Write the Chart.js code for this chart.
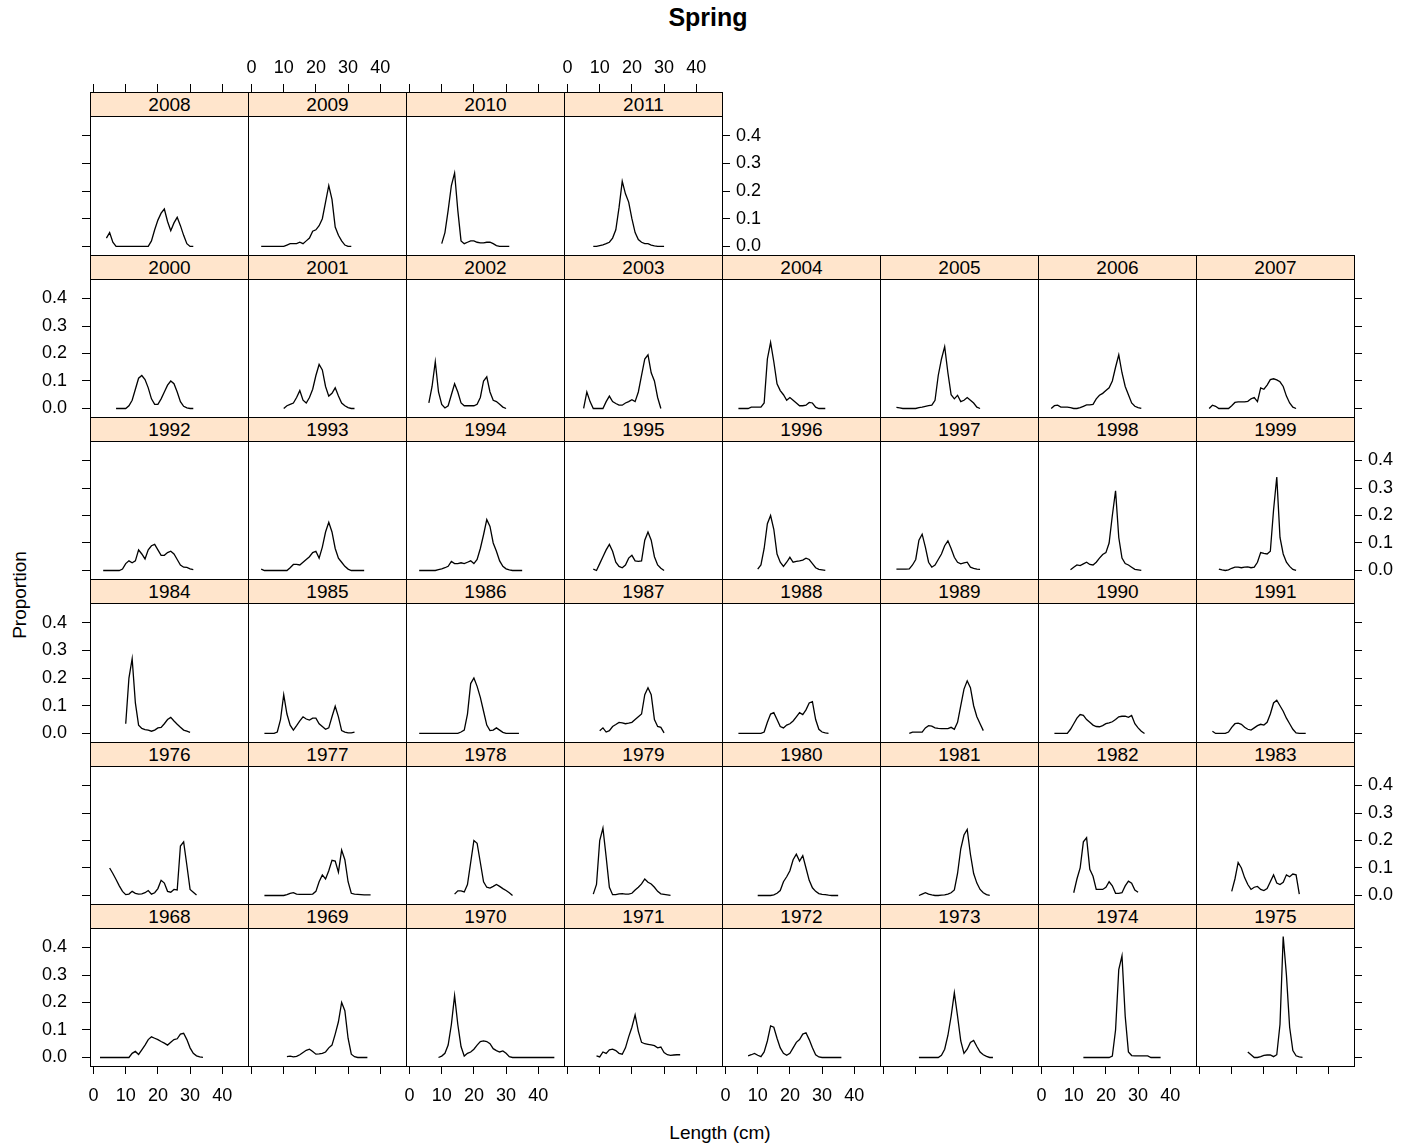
<!DOCTYPE html>
<html>
<head>
<meta charset="utf-8">
<script src="https://cdn.jsdelivr.net/npm/chart.js@4.4.1/dist/chart.umd.min.js"></script>
<style>
  body { margin: 0; background: #fff; }
  #page { position: relative; width: 1404px; height: 1147px; overflow: hidden; font-family: 'Liberation Sans', Arial, sans-serif; }
  canvas { position: absolute; }
  .strip { position: absolute; box-sizing: border-box; background: #ffe5cc; border: 1px solid #000;
           text-align: center; font-size: 19px; color: #000; z-index: 5; }
  .lbl { position: absolute; text-align: center; color: #000; white-space: nowrap; }
</style>
</head>
<body>
<div id="page">
  <div class="lbl" style="left:558px; top:3px; width:300px; font-size:25px; font-weight:bold; line-height:28px;">Spring</div>
  <div class="lbl" style="left:620px; top:1122px; width:200px; font-size:19px; line-height:22px;">Length (cm)</div>
  <div class="lbl" style="left:-80px; top:584px; width:200px; font-size:19px; line-height:22px; transform:rotate(-90deg);">Proportion</div>
</div>
<script>
// panel years, in lattice order (bottom-left first)
const years = [1968, 1969, 1970, 1971, 1972, 1973, 1974, 1975,
               1976, 1977, 1978, 1979, 1980, 1981, 1982, 1983,
               1984, 1985, 1986, 1987, 1988, 1989, 1990, 1991,
               1992, 1993, 1994, 1995, 1996, 1997, 1998, 1999,
               2000, 2001, 2002, 2003, 2004, 2005, 2006, 2007,
               2008, 2009, 2010, 2011];

// first length class (cm) of each year's series, 1 cm steps after that
const startLength = [2, 11, 9, 9, 7, 11, 13, 15,
                     5, 4, 14, 8, 10, 11, 10, 10,
                     10, 4, 3, 10, 4, 8, 4, 4,
                     3, 3, 3, 8, 10, 4, 9, 6,
                     7, 10, 6, 5, 4, 4, 3, 3,
                     4, 3, 10, 8];

// proportion at length
const proportion = [
  [0,0,0,0,0,0,0,0,0,0, 0.015,0.022,0.011,0.028,0.045,0.065,0.075,0.07,0.065,0.058, 0.052,0.045,0.055,0.065,0.068,0.085,0.088,0.065,0.035,0.015, 0.006,0.002,0], // 1968
  [0.003,0.005,0.002,0.004,0.01,0.018,0.026,0.03,0.022,0.012, 0.013,0.015,0.02,0.035,0.045,0.085,0.13,0.2,0.17,0.07, 0.012,0.003,0,0,0,0], // 1969
  [0,0.005,0.015,0.045,0.12,0.225,0.12,0.04,0.005,0.015, 0.02,0.03,0.045,0.058,0.06,0.058,0.05,0.032,0.025,0.02, 0.024,0.015,0.003,0,0,0,0,0,0,0, 0,0,0,0,0,0,0], // 1970
  [0.006,0.002,0.02,0.015,0.028,0.03,0.025,0.015,0.012,0.035, 0.075,0.11,0.155,0.095,0.055,0.05,0.048,0.046,0.043,0.035, 0.038,0.018,0.01,0.008,0.009,0.01,0.01], // 1971
  [0.006,0.01,0.015,0.008,0.003,0.02,0.06,0.115,0.11,0.07, 0.035,0.015,0.008,0.015,0.035,0.055,0.065,0.085,0.09,0.065, 0.035,0.01,0.002,0,0,0,0,0,0,0], // 1972
  [0,0,0,0,0,0,0,0.008,0.03,0.08, 0.15,0.235,0.15,0.06,0.015,0.03,0.055,0.062,0.04,0.02, 0.01,0.004,0,0], // 1973
  [0,0,0,0,0,0,0,0,0,0.005, 0.1,0.32,0.37,0.15,0.02,0.007,0.006,0.006,0.006,0.006, 0.006,0,0,0,0], // 1974
  [0.02,0.01,0,0,0.003,0.008,0.009,0.009,0.003,0.01, 0.12,0.44,0.3,0.11,0.025,0.006,0.002,0], // 1975
  [0.1,0.08,0.058,0.035,0.015,0.003,0.005,0.015,0.008,0.005, 0.006,0.01,0.018,0.005,0.01,0.025,0.055,0.045,0.015,0.012, 0.022,0.02,0.18,0.195,0.11,0.022,0.012,0.002], // 1976
  [0,0,0,0,0,0,0,0.003,0.008,0.01, 0.005,0.004,0.004,0.004,0.004,0.005,0.015,0.05,0.075,0.06, 0.09,0.128,0.125,0.085,0.165,0.13,0.05,0.008,0.005,0.004, 0.003,0.002,0.002,0.002], // 1977
  [0.005,0.017,0.017,0.013,0.04,0.12,0.2,0.19,0.12,0.05, 0.03,0.027,0.033,0.04,0.033,0.025,0.018,0.01,0], // 1978
  [0.005,0.04,0.2,0.245,0.14,0.03,0.003,0.003,0.006,0.007, 0.005,0.005,0.008,0.02,0.03,0.042,0.06,0.048,0.042,0.03, 0.015,0.006,0.004,0.002,0], // 1979
  [0,0,0,0,0,0.002,0.008,0.018,0.05,0.068, 0.09,0.13,0.15,0.125,0.145,0.1,0.055,0.028,0.015,0.007, 0.004,0.003,0.001,0,0,0], // 1980
  [0,0.005,0.01,0.005,0.002,0,0,0.001,0.002,0.005, 0.01,0.02,0.08,0.17,0.22,0.24,0.15,0.08,0.045,0.022, 0.01,0.003,0], // 1981
  [0.01,0.06,0.1,0.195,0.21,0.095,0.07,0.022,0.022,0.022, 0.03,0.05,0.035,0.008,0.008,0.01,0.035,0.052,0.045,0.02, 0.012], // 1982
  [0.015,0.06,0.12,0.1,0.065,0.04,0.022,0.03,0.033,0.022, 0.018,0.025,0.05,0.075,0.045,0.04,0.048,0.075,0.068,0.078, 0.075,0.005], // 1983
  [0.035,0.2,0.27,0.11,0.03,0.018,0.014,0.012,0.008,0.012, 0.02,0.022,0.035,0.05,0.058,0.045,0.033,0.022,0.012,0.008, 0.004], // 1984
  [0,0,0,0,0.005,0.05,0.14,0.07,0.03,0.012, 0.028,0.045,0.06,0.052,0.048,0.055,0.055,0.035,0.025,0.015, 0.02,0.06,0.098,0.06,0.01,0.005,0.002,0.002,0.005], // 1985
  [0,0,0,0,0,0,0,0,0,0, 0,0,0,0.005,0.012,0.07,0.18,0.2,0.17,0.13, 0.08,0.03,0.01,0.012,0.02,0.012,0.004,0,0,0, 0,0], // 1986
  [0.01,0.02,0.005,0.01,0.025,0.032,0.04,0.038,0.035,0.037, 0.04,0.05,0.06,0.07,0.14,0.165,0.14,0.05,0.025,0.022, 0.002], // 1987
  [0,0,0,0,0,0,0,0,0.005,0.04, 0.07,0.075,0.05,0.025,0.02,0.03,0.035,0.045,0.06,0.075, 0.068,0.085,0.11,0.115,0.05,0.015,0.005,0.002,0], // 1988
  [0,0.005,0.005,0.005,0.005,0.02,0.028,0.026,0.02,0.018, 0.017,0.017,0.017,0.022,0.015,0.04,0.1,0.16,0.19,0.165, 0.1,0.06,0.035,0.01], // 1989
  [0,0,0,0,0,0.015,0.035,0.055,0.068,0.065, 0.05,0.04,0.03,0.025,0.024,0.028,0.035,0.038,0.042,0.05, 0.06,0.062,0.062,0.058,0.065,0.035,0.02,0.008,0], // 1990
  [0.008,0,0,0,0,0.005,0.022,0.035,0.037,0.033, 0.022,0.015,0.012,0.02,0.028,0.033,0.03,0.04,0.07,0.11, 0.12,0.1,0.08,0.055,0.035,0.015,0.002,0,0,0], // 1991
  [0,0,0,0,0,0,0.005,0.025,0.035,0.028, 0.035,0.075,0.06,0.042,0.075,0.09,0.095,0.075,0.055,0.055, 0.065,0.07,0.06,0.04,0.02,0.012,0.011,0.006,0.003], // 1992
  [0.005,0,0,0,0,0,0,0,0,0.01, 0.022,0.022,0.02,0.03,0.04,0.05,0.065,0.07,0.045,0.085, 0.14,0.175,0.14,0.08,0.045,0.03,0.015,0.005,0,0, 0,0,0], // 1993
  [0,0,0,0,0,0,0.003,0.006,0.01,0.015, 0.033,0.025,0.025,0.028,0.025,0.03,0.035,0.025,0.04,0.08, 0.13,0.185,0.16,0.1,0.07,0.035,0.015,0.006,0.002,0, 0,0,0], // 1994
  [0.005,0,0.025,0.05,0.075,0.095,0.07,0.03,0.015,0.01, 0.02,0.045,0.055,0.035,0.033,0.035,0.11,0.14,0.11,0.05, 0.02,0.008,0], // 1995
  [0.005,0.02,0.08,0.17,0.2,0.15,0.06,0.03,0.015,0.03, 0.048,0.03,0.033,0.035,0.038,0.045,0.04,0.025,0.01,0.004, 0.002,0], // 1996
  [0.005,0.005,0.005,0.005,0.006,0.02,0.04,0.11,0.132,0.085, 0.03,0.012,0.02,0.04,0.06,0.09,0.108,0.08,0.048,0.03, 0.024,0.028,0.03,0.012,0.008,0.005,0.004], // 1997
  [0.003,0.012,0.02,0.018,0.024,0.03,0.022,0.02,0.03,0.045, 0.058,0.065,0.1,0.2,0.29,0.12,0.045,0.025,0.02,0.012, 0.004,0.002,0], // 1998
  [0.005,0.002,0,0.002,0.008,0.012,0.012,0.01,0.012,0.013, 0.01,0.012,0.03,0.065,0.062,0.06,0.07,0.22,0.34,0.12, 0.06,0.03,0.015,0.004,0], // 1999
  [0,0,0,0,0.01,0.03,0.07,0.11,0.12,0.105, 0.075,0.035,0.015,0.015,0.035,0.06,0.085,0.1,0.09,0.06, 0.025,0.008,0.002,0,0], // 2000
  [0,0.01,0.015,0.02,0.04,0.065,0.03,0.02,0.04,0.07, 0.12,0.16,0.14,0.08,0.045,0.055,0.075,0.045,0.02,0.01, 0.003,0,0], // 2001
  [0.02,0.08,0.17,0.06,0.015,0.002,0.01,0.05,0.09,0.06, 0.02,0.01,0.01,0.01,0.01,0.015,0.04,0.1,0.115,0.06, 0.03,0.025,0.015,0.005,0], // 2002
  [0,0.06,0.025,0,0,0,0,0.025,0.045,0.025, 0.018,0.012,0.012,0.02,0.025,0.032,0.025,0.06,0.12,0.18, 0.195,0.13,0.1,0.04,0], // 2003
  [0,0,0,0,0.005,0.005,0.005,0.005,0.02,0.18, 0.24,0.17,0.09,0.065,0.05,0.03,0.04,0.03,0.02,0.01, 0.01,0.012,0.022,0.02,0.005,0,0,0], // 2004
  [0.004,0.002,0,0,0,0,0,0.003,0.005,0.008, 0.01,0.012,0.03,0.12,0.18,0.225,0.13,0.05,0.035,0.048, 0.025,0.03,0.04,0.03,0.02,0.005,0], // 2005
  [0,0.01,0.012,0.005,0.005,0.005,0.003,0,0,0.003, 0.008,0.013,0.013,0.015,0.035,0.048,0.055,0.065,0.075,0.1, 0.15,0.195,0.13,0.08,0.05,0.02,0.008,0.003,0], // 2006
  [0,0.012,0.008,0,0,0,0,0.01,0.022,0.024, 0.024,0.024,0.026,0.035,0.04,0.025,0.075,0.07,0.085,0.105, 0.108,0.104,0.097,0.08,0.045,0.02,0.005,0], // 2007
  [0.03,0.05,0.015,0,0,0,0,0,0,0, 0,0,0,0,0.02,0.06,0.095,0.12,0.135,0.09, 0.057,0.085,0.105,0.075,0.04,0.01,0,0], // 2008
  [0,0,0,0,0,0,0,0,0.005,0.01, 0.01,0.01,0.015,0.01,0.02,0.03,0.055,0.06,0.075,0.1, 0.16,0.22,0.17,0.07,0.04,0.02,0.005,0,0], // 2009
  [0.01,0.05,0.13,0.22,0.265,0.13,0.02,0.01,0.015,0.02, 0.02,0.015,0.013,0.013,0.015,0.015,0.01,0.003,0,0, 0,0], // 2010
  [0,0,0.003,0.006,0.01,0.015,0.03,0.06,0.14,0.235, 0.19,0.16,0.1,0.05,0.025,0.015,0.01,0.01,0.005,0.002, 0,0,0] // 2011
];

const xTicks = [0, 10, 20, 30, 40];
const xTickLabels = ['0', '10', '20', '30', '40'];
const yTicks = [0, 0.1, 0.2, 0.3, 0.4];
const yTickLabels = ['0.0', '0.1', '0.2', '0.3', '0.4'];

// layout of the lattice
const NCOL = 8, NROW = 6;
const LEFT0 = 90, TOP0 = 92.3, PANEL_W = 158, ROW_PITCH = 162.3, STRIP_H = 24;
const X_MIN = -1.1, X_MAX = 48, Y_MIN = -0.031, Y_MAX = 0.471;
const M = { l: 70, r: 70, t: 50, b: 50 };
const ink = '#000';
const fontFam = "'Liberation Sans', Arial, sans-serif";
const tickFont = { family: fontFam, size: 18 };
const none = 'rgba(0,0,0,0)';

const page = document.getElementById('page');

function axis(kind, pos, min, max, ticks, labels, fit, showTicks, showLabels, pad) {
  return {
    type: 'linear', position: pos, min: min, max: max, bounds: 'data',
    afterBuildTicks: s => { s.ticks = ticks.map(v => ({ value: v })); },
    afterFit: s => { if (kind === 'x') s.height = fit; else s.width = fit; },
    grid: { display: true, drawOnChartArea: false, drawTicks: true, tickLength: 8,
            tickWidth: 1, tickColor: showTicks ? ink : none },
    border: { display: true, color: ink, width: 1 },
    ticks: { display: showLabels, padding: pad, color: ink, font: tickFont,
             autoSkip: false, maxRotation: 0, minRotation: 0,
             callback: (v, i) => labels[i] }
  };
}

years.forEach((year, i) => {
  const col = i % NCOL;
  const r = NROW - 1 - Math.floor(i / NCOL);
  const top = Math.round(TOP0 + ROW_PITCH * r);
  const bottom = Math.round(TOP0 + ROW_PITCH * (r + 1));
  const h = bottom - top;
  const left = LEFT0 + PANEL_W * col;
  const rightEnd = col === NCOL - 1 || i === years.length - 1;
  // strip sits inside the chart area, above the data region
  const yTop = Y_MAX + (Y_MAX - Y_MIN) * STRIP_H / (h - STRIP_H);

  const cv = document.createElement('canvas');
  cv.width = M.l + PANEL_W + M.r;
  cv.height = M.t + h + M.b;
  cv.style.left = (left - M.l) + 'px';
  cv.style.top = (top - M.t) + 'px';
  page.appendChild(cv);

  const strip = document.createElement('div');
  strip.className = 'strip';
  strip.style.left = left + 'px';
  strip.style.top = top + 'px';
  strip.style.width = (PANEL_W + 1) + 'px';
  strip.style.height = (STRIP_H + 1) + 'px';
  strip.style.lineHeight = (STRIP_H - 1) + 'px';
  strip.textContent = year;
  page.appendChild(strip);

  const pts = proportion[i].map((p, k) => ({ x: startLength[i] + k, y: p }));

  new Chart(cv.getContext('2d'), {
    type: 'line',
    data: { datasets: [{ data: pts, borderColor: ink, borderWidth: 1.3, pointRadius: 0,
                         fill: false, tension: 0 }] },
    options: {
      responsive: false, animation: false, events: [],
      layout: { padding: 0 },
      plugins: { legend: { display: false }, tooltip: { enabled: false }, title: { display: false } },
      scales: {
        x: axis('x', 'bottom', X_MIN, X_MAX, xTicks, xTickLabels, M.b,
                r === NROW - 1, r === NROW - 1 && col % 2 === 0, 11),
        x2: axis('x', 'top', X_MIN, X_MAX, xTicks, xTickLabels, M.t,
                 r === 0, r === 0 && col % 2 === 1, 5),
        y: axis('y', 'left', Y_MIN, yTop, yTicks, yTickLabels, M.l,
                col === 0, col === 0 && r % 2 === 1, 15),
        y2: axis('y', 'right', Y_MIN, yTop, yTicks, yTickLabels, M.r,
                 rightEnd, rightEnd && r % 2 === 0, 6)
      }
    }
  });
});
</script>
</body>
</html>
